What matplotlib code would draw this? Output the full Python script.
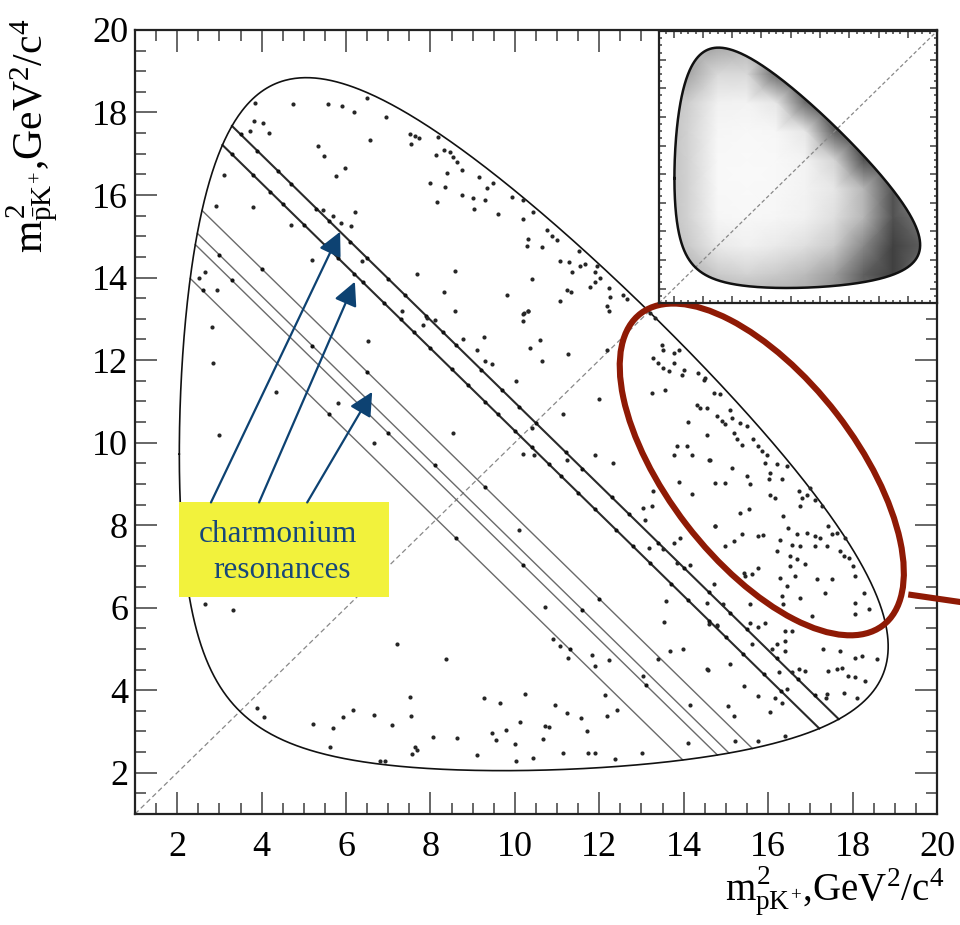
import numpy as np
import matplotlib.pyplot as plt
from matplotlib.patches import Ellipse, Polygon, Rectangle
from matplotlib.ticker import MultipleLocator

plt.rcParams['font.family'] = ['Liberation Serif', 'DejaVu Serif']
plt.rcParams['mathtext.fontset'] = 'custom'
plt.rcParams['mathtext.rm'] = 'Liberation Serif'
plt.rcParams['mathtext.it'] = 'Liberation Serif'

# masses in GeV/c^2 (B+ -> p pbar K+)
m_B = 5.2793
m_p = 0.9383
m_K = 0.4937

# charmonium states decaying to p pbar
cc_names = ['eta_c', 'J/psi', 'chi_c0', 'chi_c1', 'chi_c2', 'psi(2S)']
cc_mass = [2.9839, 3.0969, 3.4147, 3.5107, 3.5562, 3.6861]

# candidates sitting on the resonance bands, m2(pK+) of each
band_x = {
    'eta_c': [3.5, 3.9, 4.4, 4.7, 5.3, 5.6, 6.1, 6.5, 7.0, 7.4, 7.9, 8.3, 8.6, 9.2, 9.7,
              10.1, 10.5, 11.2, 11.6, 12.3, 12.7, 13.4, 14.0, 14.6, 15.1, 15.5, 16.2, 16.7, 17.1],
    'J/psi': [3.3, 3.8, 4.2, 4.5, 5.0, 5.5, 5.8, 6.2, 6.4, 6.9, 7.3, 7.6, 8.0, 8.5, 8.9, 9.3,
              9.6, 10.0, 10.4, 10.8, 11.1, 11.5, 11.9, 12.4, 12.8, 13.2, 13.7, 14.1, 14.6, 15.0,
              15.4, 15.9, 16.3],
    'chi_c0': [4.0, 6.5, 9.3, 12.0],
    'chi_c1': [3.0, 5.2, 8.1, 11.6],
    'chi_c2': [3.3, 7.0, 10.2, 13.1],
    'psi(2S)': [2.6, 5.6, 8.6, 11.3],
}

# remaining candidates (m2(pK+), m2(pbarK+))
pts_top_left = [
    (3.84, 18.24), (4.74, 18.20), (5.58, 18.20), (5.91, 18.16), (6.49, 18.34), (6.20, 18.0),
    (6.95, 17.90), (3.82, 17.80), (4.03, 17.75), (3.73, 17.55), (4.18, 17.51), (6.57, 17.33),
    (5.34, 17.19), (5.48, 16.95), (7.52, 17.49), (7.64, 17.43), (7.74, 17.37), (7.53, 17.24),
    (8.19, 17.41), (8.31, 17.09), (8.46, 17.05), (8.13, 16.97), (8.54, 16.93), (8.64, 16.81),
    (8.74, 16.61), (5.98, 16.65), (5.76, 16.45), (8.39, 16.53), (7.98, 16.30), (8.35, 16.20),
    (8.75, 16.0), (8.15, 15.82), (3.11, 16.48), (2.92, 15.74), (3.79, 15.72), (6.21, 15.6),
    (5.46, 15.64), (5.70, 15.48), (5.87, 15.32), (6.12, 15.26), (4.69, 15.27), (5.20, 14.43),
    (6.37, 14.39), (7.68, 14.08), (8.57, 14.17), (8.31, 13.64), (8.58, 13.18), (7.32, 13.18),
    (7.91, 13.02), (8.11, 12.97), (7.83, 12.85), (8.78, 12.51), (6.51, 12.47), (2.82, 12.81),
    (2.94, 13.70), (2.67, 14.13), (2.52, 13.98),
]
pts_top_mid = [
    (9.14, 16.43), (9.33, 16.16), (9.49, 16.28), (9.02, 15.92), (9.30, 15.88), (9.03, 15.66),
    (9.93, 15.96), (10.20, 15.88), (10.44, 15.60), (9.61, 15.54), (10.20, 15.41), (10.76, 15.15),
    (10.88, 15.01), (11.0, 14.91), (10.32, 14.94), (10.28, 14.77), (10.64, 14.73), (11.06, 14.41),
    (11.29, 14.37), (11.51, 14.65), (11.55, 14.28), (11.67, 14.33), (11.94, 14.27), (11.90, 14.14),
    (11.35, 14.13), (10.40, 13.97), (12.02, 13.98), (11.90, 13.90), (11.78, 13.78), (11.23, 13.70),
    (11.33, 13.66), (9.81, 13.58), (11.07, 13.44), (12.22, 13.74), (12.26, 13.52), (12.57, 13.58),
    (12.65, 13.47), (12.18, 13.30), (12.24, 13.20), (10.32, 13.20), (10.20, 13.12),
]
pts_low_left = [
    (2.86, 11.93), (4.34, 11.23), (5.80, 10.96), (2.99, 10.19), (6.66, 10.0), (8.53, 10.23),
    (7.20, 5.11), (8.37, 4.75), (2.66, 6.10), (3.33, 5.94), (7.52, 3.84), (3.88, 3.58),
    (4.06, 3.35), (6.16, 3.52), (5.94, 3.36), (6.66, 3.40), (7.53, 3.37), (5.21, 3.17),
    (5.70, 3.09), (7.08, 3.15), (8.07, 2.87), (8.62, 2.83), (5.62, 2.62), (7.64, 2.62),
    (7.69, 2.55), (7.56, 2.45), (6.81, 2.28), (6.92, 2.28),
]
pts_mid = [
    (10.22, 13.14), (10.32, 13.18), (10.20, 12.94), (9.26, 12.57), (9.10, 12.25), (10.36, 12.29),
    (10.60, 12.49), (12.18, 12.25), (11.27, 12.15), (10.64, 11.97), (9.30, 11.97), (9.45, 11.91),
    (10.03, 11.50), (12.0, 11.06), (11.14, 10.70), (10.40, 10.35), (10.20, 9.73), (10.46, 9.71),
    (11.90, 9.71), (12.32, 9.50), (11.23, 9.59), (10.09, 7.89), (10.72, 6.02), (10.91, 5.24),
    (11.07, 5.07), (11.27, 4.78), (11.82, 4.86), (12.24, 4.73), (11.90, 4.58), (9.26, 3.81),
    (9.65, 3.68), (10.24, 3.90), (10.95, 3.63), (11.23, 3.45), (11.57, 3.33), (10.11, 3.23),
    (10.72, 3.13), (10.81, 3.10), (9.79, 3.03), (9.45, 2.97), (9.56, 2.79), (10.01, 2.69),
    (10.66, 2.82), (11.70, 3.01), (11.14, 2.47), (11.74, 2.47), (11.90, 2.47), (10.44, 2.36),
    (10.03, 2.28), (9.10, 2.42), (12.14, 3.89), (12.42, 3.53), (12.18, 3.37), (13.01, 2.47),
    (12.38, 2.34), (13.68, 4.94), (13.98, 5.0), (13.54, 5.65), (14.57, 4.50), (14.15, 3.65),
    (14.10, 2.73), (13.40, 4.76), (13.03, 4.34), (13.28, 8.82), (13.03, 8.42), (13.09, 8.13),
    (13.24, 8.46), (13.92, 7.69), (13.76, 7.57), (13.17, 7.45), (13.52, 7.41), (13.84, 7.08),
    (14.15, 7.04), (13.58, 6.16), (14.55, 6.12), (14.79, 5.59),
]
pts_ellipse = [
    (13.21, 13.14), (13.32, 13.02), (13.48, 12.37), (13.52, 12.25), (13.77, 12.17), (13.88, 12.25),
    (13.28, 12.05), (13.40, 11.93), (13.52, 11.81), (13.76, 11.93), (13.64, 11.73), (14.0, 11.77),
    (13.96, 11.64), (14.35, 11.68), (14.47, 11.52), (13.24, 11.20), (13.56, 11.28), (14.31, 10.92),
    (14.39, 10.84), (14.11, 10.51), (14.55, 10.19), (13.76, 9.71), (13.84, 9.91), (14.07, 9.91),
    (14.19, 9.71), (13.88, 9.04), (14.19, 8.76), (14.63, 9.59), (14.75, 7.97),
    (14.51, 11.57), (14.71, 11.21), (14.86, 11.17), (14.55, 10.84), (14.78, 10.64), (14.90, 10.52),
    (14.98, 10.44), (15.14, 10.60), (15.18, 10.24), (15.10, 10.80), (15.34, 10.48), (15.26, 10.08),
    (15.38, 9.95), (15.50, 10.40), (15.65, 10.08), (15.77, 9.91), (15.85, 9.79), (15.97, 9.71),
    (15.93, 9.51), (16.05, 9.27), (16.21, 9.47), (16.44, 9.43), (14.59, 9.59), (15.14, 9.39),
    (14.75, 9.03), (14.98, 9.01), (15.50, 9.19), (15.57, 8.99), (16.01, 9.11), (16.33, 9.11),
    (16.05, 8.74), (16.17, 8.66), (16.72, 8.82), (16.80, 8.66), (16.92, 8.74), (17.0, 8.91),
    (17.12, 8.62), (17.27, 8.46), (16.76, 8.46), (16.36, 8.22), (15.34, 8.30), (15.54, 8.38),
    (14.75, 7.98), (15.38, 7.78), (15.77, 7.74), (15.89, 7.75), (16.29, 7.65), (16.48, 7.94),
    (16.68, 7.78), (16.92, 7.82), (17.12, 7.74), (17.23, 7.70), (17.43, 7.98), (17.51, 7.78),
    (17.63, 7.82), (17.83, 7.70), (16.56, 7.53), (16.76, 7.49), (16.21, 7.37), (16.52, 7.25),
    (16.68, 7.19), (16.88, 7.05), (17.12, 7.49), (17.39, 7.49), (17.71, 7.37), (17.79, 7.25),
    (17.91, 7.21), (18.02, 7.01), (15.18, 7.61), (14.98, 7.49), (15.77, 6.97), (15.42, 6.85),
    (15.61, 6.81), (16.52, 7.01), (16.29, 6.73), (16.64, 6.77), (16.44, 6.52), (17.15, 6.69),
    (17.51, 6.69), (17.35, 6.36), (18.06, 6.77), (18.26, 6.36), (18.06, 6.12), (18.38, 5.96),
    (18.06, 5.84), (16.33, 6.28), (16.36, 6.08), (16.76, 6.24), (17.04, 5.80),
]
pts_right = [
    (17.31, 5.0), (17.71, 4.95), (18.06, 4.79), (18.22, 4.83), (18.58, 4.75), (17.43, 4.47),
    (17.63, 4.51), (17.75, 4.55), (17.90, 4.35), (18.06, 4.31), (18.30, 4.22), (17.39, 3.90),
    (17.38, 3.82), (17.79, 3.94), (18.10, 3.82), (16.40, 5.44), (16.56, 5.44), (16.40, 5.19),
    (16.21, 5.11), (16.09, 5.0), (16.40, 4.95), (16.72, 4.51), (16.88, 4.47), (16.56, 4.43),
    (16.25, 4.43), (15.61, 5.11), (15.10, 4.63), (14.55, 4.51), (15.42, 4.10), (15.77, 3.86),
    (16.05, 3.46), (16.17, 3.82), (16.33, 3.70), (16.44, 4.02), (15.06, 3.62), (15.18, 3.38),
    (15.22, 2.77), (15.77, 2.77), (16.40, 2.89), (15.46, 6.77), (14.94, 6.08), (14.59, 5.60),
    (14.78, 5.56), (14.71, 6.57), (15.57, 5.64), (15.77, 5.52), (15.93, 5.64), (15.57, 6.08),
]

# signal MC density for the inset, nodes every 2 GeV^2 from 1 to 19 (rows top -> bottom)
mc_nodes = [1, 3, 5, 7, 9, 11, 13, 15, 17, 19]
mc_density = [
    [0.30, 0.40, 0.45, 0.40, 0.35, 0.20, 0.05, 0.00, 0.00, 0.00],
    [0.40, 0.45, 0.25, 0.25, 0.65, 0.60, 0.20, 0.00, 0.00, 0.00],
    [0.40, 0.30, 0.12, 0.10, 0.18, 0.65, 0.70, 0.20, 0.00, 0.00],
    [0.40, 0.28, 0.08, 0.06, 0.08, 0.18, 0.70, 0.70, 0.10, 0.00],
    [0.40, 0.28, 0.06, 0.05, 0.06, 0.10, 0.28, 0.75, 0.55, 0.00],
    [0.40, 0.28, 0.06, 0.05, 0.06, 0.10, 0.18, 0.40, 0.75, 0.40],
    [0.40, 0.28, 0.08, 0.06, 0.08, 0.12, 0.22, 0.40, 0.75, 0.60],
    [0.40, 0.32, 0.16, 0.12, 0.16, 0.22, 0.32, 0.55, 0.80, 0.70],
    [0.40, 0.42, 0.32, 0.28, 0.32, 0.38, 0.48, 0.70, 0.80, 0.60],
    [0.30, 0.45, 0.45, 0.45, 0.45, 0.45, 0.55, 0.65, 0.60, 0.40],
]


def dalitz_boundary(n=500):
    x_lo, x_hi = (m_p + m_K) ** 2, (m_B - m_p) ** 2
    t = np.linspace(0, np.pi, n)
    x = x_lo + (x_hi - x_lo) * (1 - np.cos(t)) / 2
    m12 = np.sqrt(x)
    e_k = (x - m_p ** 2 + m_K ** 2) / (2 * m12)
    e_pb = (m_B ** 2 - x - m_p ** 2) / (2 * m12)
    p_k = np.sqrt(np.clip(e_k ** 2 - m_K ** 2, 0, None))
    p_pb = np.sqrt(np.clip(e_pb ** 2 - m_p ** 2, 0, None))
    y_min = (e_k + e_pb) ** 2 - (p_k + p_pb) ** 2
    y_max = (e_k + e_pb) ** 2 - (p_k - p_pb) ** 2
    bx = np.concatenate([x, x[::-1]])
    by = np.concatenate([y_min, y_max[::-1]])
    return bx, by


def band_ends(m_cc):
    # m2(p pbar) fixed -> straight line x + y = const inside the Dalitz region
    e_p = m_cc / 2
    p_p = np.sqrt(e_p ** 2 - m_p ** 2)
    e_k = (m_B ** 2 - m_cc ** 2 - m_K ** 2) / (2 * m_cc)
    p_k = np.sqrt(e_k ** 2 - m_K ** 2)
    x1 = (e_p + e_k) ** 2 - (p_p + p_k) ** 2
    x2 = (e_p + e_k) ** 2 - (p_p - p_k) ** 2
    s = m_B ** 2 + 2 * m_p ** 2 + m_K ** 2 - m_cc ** 2
    return np.array([x1, x2]), s


def style_frame(ax, major_len, minor_len, labels=True):
    ax.set_xlim(1, 20)
    ax.set_ylim(1, 20)
    ax.xaxis.set_major_locator(MultipleLocator(2))
    ax.yaxis.set_major_locator(MultipleLocator(2))
    ax.xaxis.set_minor_locator(MultipleLocator(0.5))
    ax.yaxis.set_minor_locator(MultipleLocator(0.5))
    ax.tick_params(which='both', direction='in', top=True, right=True,
                   color='#666666', width=1.4)
    ax.tick_params(which='major', length=major_len)
    ax.tick_params(which='minor', length=minor_len)
    if labels:
        ax.tick_params(labelsize=26)
        ax.tick_params(axis='x', pad=12)
        ax.tick_params(axis='y', pad=5)
    else:
        ax.tick_params(labelbottom=False, labelleft=False)
    for sp in ax.spines.values():
        sp.set_linewidth(1.6)
        sp.set_color('#222222')


fig = plt.figure(figsize=(9.6, 9.25), dpi=100)
ax = fig.add_axes([0.1406, 0.12, 0.8354, 0.8476])
style_frame(ax, 16, 8)

bx, by = dalitz_boundary()
ax.plot(bx, by, color='#111111', lw=1.2, zorder=3)
ax.plot([1, 20], [1, 20], color='#888888', lw=0.9, ls=(0, (4, 2.5)), zorder=1)

for name, mc in zip(cc_names, cc_mass):
    xe, s = band_ends(mc)
    strong = name in ('eta_c', 'J/psi')
    ax.plot(xe, s - xe, color='#2a2a2a' if strong else '#6a6a6a',
            lw=1.5 if strong else 1.0, zorder=2)
    bxs = np.array(band_x[name])
    ax.plot(bxs, s - bxs, 'o', ms=3.0, mec='none', color='#111111', zorder=3)

for group in (pts_top_left, pts_top_mid, pts_low_left, pts_mid, pts_ellipse, pts_right):
    g = np.array(group)
    ax.plot(g[:, 0], g[:, 1], 'o', ms=3.0, mec='none', color='#262626', zorder=3)

ax.set_xlabel(r'$m^{2}_{pK^{+}}$,GeV$^{2}$/c$^{4}$', fontsize=28, ha='right')
ax.xaxis.set_label_coords(1.009, -0.064)
ax.set_ylabel(r'$m^{2}_{\bar{p}K^{+}}$,GeV$^{2}$/c$^{4}$', fontsize=30, ha='right')
ax.yaxis.set_label_coords(-0.094, 1.014)

# label box with arrows to the bands
navy = '#0d4272'
ax.add_patch(Rectangle((2.04, 6.25), 4.98, 2.30, facecolor='#f2f23c', edgecolor='none', zorder=6))
ax.text(4.39, 7.60, 'charmonium', ha='center', va='baseline', fontsize=22.5, color='#17477a', zorder=7)
ax.text(4.49, 6.71, 'resonances', ha='center', va='baseline', fontsize=22.5, color='#17477a', zorder=7)
arrow_tails = [(2.80, 8.55), (3.94, 8.55), (5.08, 8.55)]
arrow_tips = [(5.86, 15.11), (6.21, 13.90), (6.62, 11.23)]
for tail, tip in zip(arrow_tails, arrow_tips):
    ax.annotate('', xy=tip, xytext=tail, zorder=7,
                arrowprops=dict(arrowstyle='-|>,head_length=0.6,head_width=0.3',
                                mutation_scale=24, lw=1.6, color=navy,
                                shrinkA=0, shrinkB=0))

# highlighted region
red = '#8f1a05'
ax.add_patch(Ellipse((15.85, 9.35), 9.49, 4.46, angle=-53, fill=False,
                     edgecolor=red, lw=4.4, zorder=8, clip_on=False))
ax.plot([19.32, 20.6], [6.32, 6.13], color=red, lw=4.4, zorder=8, clip_on=False,
        solid_capstyle='butt')

# inset: signal MC
axi = fig.add_axes([0.6865, 0.6724, 0.2896, 0.294])
style_frame(axi, 5, 2.5, labels=False)
axi.set_facecolor('white')
poly = Polygon(np.column_stack([bx, by]), closed=True, transform=axi.transData)
mesh = axi.pcolormesh(mc_nodes, mc_nodes, np.array(mc_density)[::-1], shading='gouraud',
                      cmap='Greys', vmin=0, vmax=1, zorder=1)
mesh.set_clip_path(poly)
axi.plot(bx, by, color='#111111', lw=1.8, zorder=3)
axi.plot([1, 20], [1, 20], color='#888888', lw=0.9, ls=(0, (3, 2)), zorder=2)

fig.savefig('out.png', dpi=100)
